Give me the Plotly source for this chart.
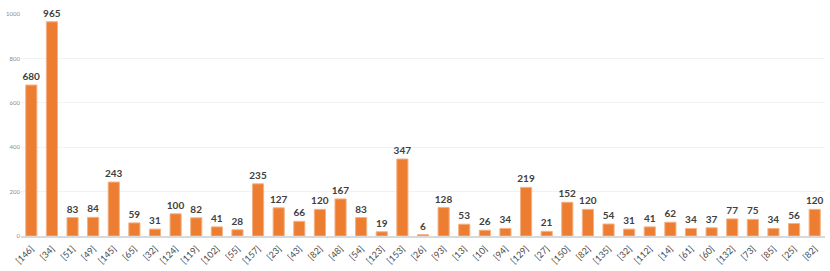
import plotly.graph_objects as go

tick_labels = ["[146]", "[34]", "[51]", "[49]", "[145]", "[65]", "[32]", "[124]", "[119]", "[102]",
               "[55]", "[157]", "[23]", "[43]", "[82]", "[48]", "[54]", "[123]", "[153]", "[26]",
               "[93]", "[13]", "[10]", "[94]", "[129]", "[27]", "[150]", "[82]", "[135]", "[32]",
               "[112]", "[14]", "[61]", "[60]", "[132]", "[73]", "[85]", "[25]", "[82]"]
values = [680, 965, 83, 84, 243, 59, 31, 100, 82, 41,
          28, 235, 127, 66, 120, 167, 83, 19, 347, 6,
          128, 53, 26, 34, 219, 21, 152, 120, 54, 31,
          41, 62, 34, 37, 77, 75, 34, 56, 120]
y_ticks = [0, 200, 400, 600, 800, 1000]

positions = list(range(len(values)))

fig = go.Figure(go.Bar(
    x=positions,
    y=values,
    marker=dict(color="#ED7D31", line=dict(color="#F4B183", width=1)),
    text=[str(v) for v in values],
    textposition="outside",
    constraintext="none",
    textfont=dict(family="Lato, sans-serif", size=10, color="#404040", weight="bold"),
    cliponaxis=False,
))

fig.update_layout(
    width=830, height=271,
    margin=dict(l=21, r=5, t=14, b=35),
    paper_bgcolor="white", plot_bgcolor="white",
    bargap=0.46,
    showlegend=False,
    font=dict(family="Lato, sans-serif"),
    xaxis=dict(
        tickmode="array", tickvals=positions, ticktext=tick_labels,
        tickangle=-45, tickfont=dict(size=9, color="#4a4a4a"),
        showgrid=False, showline=True, linecolor="#d9d9d9", linewidth=2,
        ticks="outside", ticklen=2, tickcolor="rgba(0,0,0,0)",
        range=[-0.5, len(values) - 0.5],
    ),
    yaxis=dict(
        range=[0, 1000], tickvals=y_ticks,
        tickfont=dict(size=6, color="#8c8c8c"),
        showgrid=True, gridcolor="#f2f2f2", gridwidth=1,
        zeroline=False, ticks="",
    ),
)

fig.write_html("out.html", config={"displayModeBar": False},
               post_script="document.body.style.margin='0';")
